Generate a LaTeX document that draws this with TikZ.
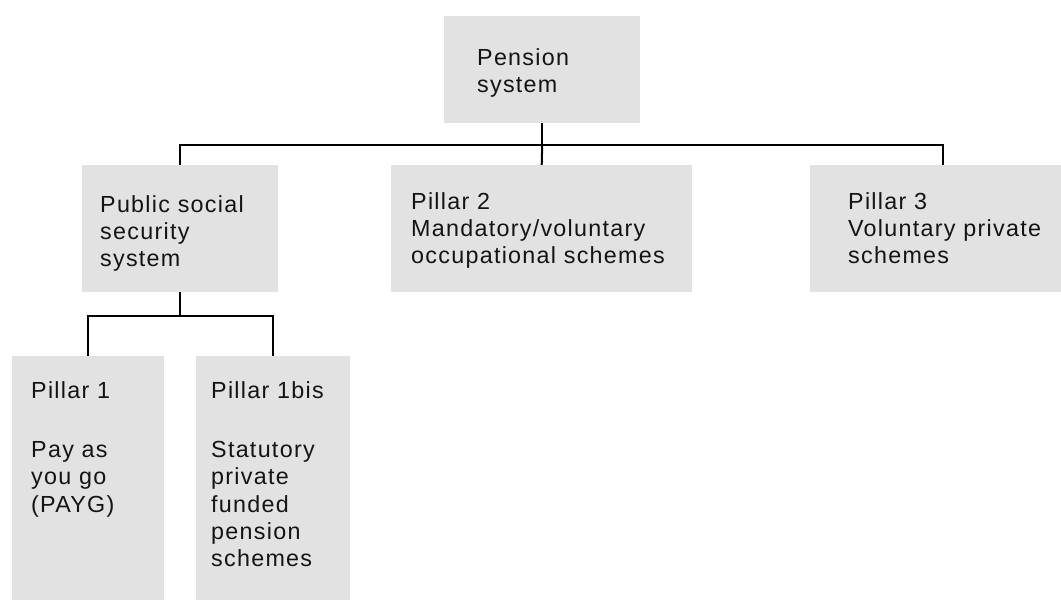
\documentclass[tikz,border=0pt]{standalone}
\usepackage{fontspec}
\setmainfont[LetterSpace=5.5]{Liberation Sans}
\usepackage{tikz}
\usepackage{color}

\definecolor{boxgray}{HTML}{E2E2E2}
\definecolor{inkgray}{HTML}{141414}

\tikzset{
  pbox/.style={fill=boxgray, text=inkgray, anchor=north west, inner sep=0pt,
    align=left, font=\fontsize{23.3}{27.3}\selectfont},
  pad/.style={execute at begin node={\leftskip=#1}},
  conn/.style={draw=black, line width=2pt}
}

\begin{document}
\begin{tikzpicture}[x=1pt, y=-1pt]
\useasboundingbox (0,0) rectangle (1061,600);
\clip (0,0) rectangle (1061,600);

% Drawing boxes
\node[pbox, pad=33pt, text width=196pt, text height=49pt, text depth=58pt] (pension) at (444,16) {Pension\\system};
\node[pbox, pad=18pt, text width=196pt, text height=47pt, text depth=80pt] (public) at (82,165) {Public social\\security\\system};
\node[pbox, pad=20pt, text width=301pt, text height=44pt, text depth=83pt] (pillartwo) at (391,165) {Pillar 2\\Mandatory/voluntary\\occupational schemes};
\node[pbox, pad=38pt, text width=266pt, text height=44pt, text depth=83pt] (pillarthree) at (810,165) {Pillar 3\\Voluntary private\\schemes};
\node[pbox, pad=19pt, text width=152pt, text height=42pt, text depth=210pt] (pillarone) at (12,356) {Pillar 1\\[32pt]Pay as\\you go\\(PAYG)};
\node[pbox, pad=15pt, text width=154pt, text height=42pt, text depth=210pt] (pillaronebis) at (196,356) {Pillar 1bis\\[32pt]Statutory\\private\\funded\\pension\\schemes};

% Drawing connectors
\draw[conn] (pension.south) -- ++(0,22) coordinate (hub);
\draw[conn] (public.north) |- (hub) -| (pillarthree.north);
\draw[conn] (hub) -- (pillartwo.north);
\draw[conn] (public.south) -- ++(0,24) coordinate (subhub);
\draw[conn] (pillarone.north) |- (subhub) -| (pillaronebis.north);
\end{tikzpicture}
\end{document}
